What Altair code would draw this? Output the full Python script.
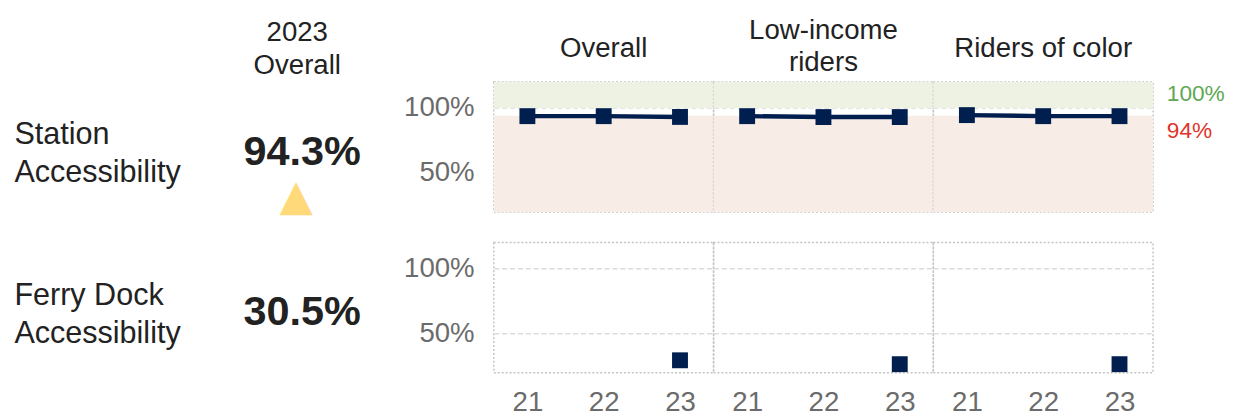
import altair as alt
import pandas as pd

# ---- data ----
metrics = ["Station Accessibility", "Ferry Dock Accessibility"]
metric_labels = ["Station\nAccessibility", "Ferry Dock\nAccessibility"]
groups = ["Overall", "Low-income riders", "Riders of color"]
group_headers = ["Overall", "Low-income\nriders", "Riders of color"]
years = ["21", "22", "23"]

station_overall = [93.7, 93.7, 93.1]
station_low_income = [93.7, 93.0, 93.0]
station_riders_of_color = [94.5, 93.7, 93.7]
ferry_overall = [None, None, 29.5]
ferry_low_income = [None, None, 26.5]
ferry_riders_of_color = [None, None, 26.5]

overall_2023_header = "2023\nOverall"
overall_2023_values = ["94.3%", "30.5%"]
overall_2023_trend = ["\u25B2", ""]

target_value = 100
target_label = "100%"
threshold_value = 94
threshold_label = "94%"
band_names = ["target", "below"]
band_low = [100, 20]
band_high = [120, 94]
y_domain = [20, 120]
y_ticks = [50, 100]

NAVY = "#001F4F"
GREEN_BAND = "#EEF2E3"
PINK_BAND = "#F8ECE6"
GREEN_TXT = "#5EA852"
RED_TXT = "#E0342B"
TRI = "#FFD97A"
DARK = "#222222"
GREY = "#6b6b6b"

CELL_W, CELL_H, ROW_GAP = 223, 132, 31
# offsets (pixels) of the left-hand annotation column, relative to the first panel's centre
LABEL_DX = -598
VALUE_DX = -306
TRI_DX = -312
HEAD0_DX = -311

# ---- long table ----
series = {
    (metrics[0], groups[0]): station_overall,
    (metrics[0], groups[1]): station_low_income,
    (metrics[0], groups[2]): station_riders_of_color,
    (metrics[1], groups[0]): ferry_overall,
    (metrics[1], groups[1]): ferry_low_income,
    (metrics[1], groups[2]): ferry_riders_of_color,
}
rows = []
for (m, g), vals in series.items():
    for yr, v in zip(years, vals):
        if v is not None:
            rows.append(dict(kind="pt", metric=m, group=g, year=yr, value=v))
for g in groups:
    for name, lo, hi in zip(band_names, band_low, band_high):
        rows.append(dict(kind="band", metric=metrics[0], group=g, band=name, lo=lo, hi=hi))
for g, h in zip(groups, group_headers):
    kind = "hdr2" if "\n" in h else "hdr1"
    rows.append(dict(kind=kind, metric=metrics[0], group=g, htext=h))
rows.append(dict(kind="tgt", metric=metrics[0], group=groups[-1], year=years[-1],
                 thr=target_value, label=target_label))
rows.append(dict(kind="thr", metric=metrics[0], group=groups[-1], year=years[-1],
                 thr=threshold_value, label=threshold_label))
for m, lab, v, t in zip(metrics, metric_labels, overall_2023_values, overall_2023_trend):
    rows.append(dict(kind="left", metric=m, group=groups[0], htext=lab, val=v, trend=t))
rows.append(dict(kind="hdr0", metric=metrics[0], group=groups[0], htext=overall_2023_header))
df = pd.DataFrame(rows)

# ---- scales / axes ----
yscale = alt.Scale(domain=y_domain, nice=False, zero=False)
xscale = alt.Scale(domain=years, padding=0.44)
yaxis = alt.Axis(values=y_ticks, labelExpr="datum.value + '%'", title=None,
                 domain=False, ticks=False, labelFontSize=28, labelColor=GREY,
                 labelPadding=20, grid=True, gridColor="#dcdcdc",
                 gridDash=[5, 3], gridWidth=1.5)
xaxis = alt.Axis(title=None, labelAngle=0, domain=False, ticks=False,
                 labelFontSize=28, labelColor=GREY, labelPadding=16, grid=False)

X = alt.X("year:O", scale=xscale, axis=xaxis, sort=years)
YTOP = alt.YDatum(y_domain[1], type="quantitative", scale=yscale, axis=yaxis)

base = alt.Chart()
bands = base.mark_rect().encode(
    y=alt.Y("lo:Q", scale=yscale, axis=yaxis),
    y2="hi:Q",
    color=alt.Color("band:N", scale=alt.Scale(domain=band_names, range=[GREEN_BAND, PINK_BAND]), legend=None),
).transform_filter(alt.datum.kind == "band")

line = base.mark_line(color=NAVY, strokeWidth=4.5).encode(
    x=X, y=alt.Y("value:Q", scale=yscale, axis=yaxis),
).transform_filter(alt.datum.kind == "pt")

pts = base.mark_square(size=260, color=NAVY, opacity=1).encode(
    x=X, y=alt.Y("value:Q", scale=yscale, axis=yaxis),
).transform_filter(alt.datum.kind == "pt")

tgt = base.mark_text(align="left", baseline="alphabetic", dx=48, dy=-7,
                     fontSize=23, color=GREEN_TXT).encode(
    x=X, y=alt.Y("thr:Q", scale=yscale, axis=yaxis), text="label:N",
).transform_filter(alt.datum.kind == "tgt")

thr = base.mark_text(align="left", baseline="alphabetic", dx=48, dy=23,
                     fontSize=23, color=RED_TXT).encode(
    x=X, y=alt.Y("thr:Q", scale=yscale, axis=yaxis), text="label:N",
).transform_filter(alt.datum.kind == "thr")

hdr2 = base.mark_text(baseline="middle", lineBreak="\n", lineHeight=33, fontSize=28,
                      color=DARK, dy=-52).encode(y=YTOP, text="htext:N").transform_filter(
    alt.datum.kind == "hdr2")
hdr1 = base.mark_text(baseline="middle", fontSize=28, color=DARK, dy=-33).encode(
    y=YTOP, text="htext:N").transform_filter(alt.datum.kind == "hdr1")

hdr0 = base.mark_text(baseline="middle", lineBreak="\n", lineHeight=34, fontSize=28,
                      color=DARK, dx=HEAD0_DX, dy=-50).encode(y=YTOP, text="htext:N").transform_filter(
    alt.datum.kind == "hdr0")

rowlab = base.mark_text(align="left", baseline="middle", lineBreak="\n", lineHeight=39,
                        fontSize=31, color=DARK, dx=LABEL_DX, dy=-12).encode(
    text="htext:N").transform_filter(alt.datum.kind == "left")

vtext = base.mark_text(fontSize=42, fontWeight="bold", color=DARK, dx=VALUE_DX, dy=5).encode(
    text="val:N").transform_filter(alt.datum.kind == "left")

vtri = base.mark_text(fontSize=44, color=TRI, dx=TRI_DX, dy=51, font="DejaVu Sans").encode(
    text="trend:N").transform_filter(alt.datum.kind == "left")

chart = alt.layer(bands, line, pts, tgt, thr, hdr2, hdr1, hdr0, rowlab, vtext, vtri, data=df).properties(
    width=CELL_W, height=CELL_H,
    view=alt.ViewBackground(stroke="#c4c4c4", strokeDash=[2, 2], strokeWidth=1.5),
).facet(
    row=alt.Row("metric:N", sort=metrics, title=None, header=alt.Header(labels=False)),
    column=alt.Column("group:N", sort=groups, title=None, header=alt.Header(labels=False)),
    spacing={"row": ROW_GAP, "column": 0},
).properties(
    bounds="flush",
    padding={"left": 5, "top": 5, "right": 0, "bottom": 0},
).configure(font="Liberation Sans").configure_view(strokeWidth=0)

chart.save("out.html", embed_options={"renderer": "svg", "actions": False})
